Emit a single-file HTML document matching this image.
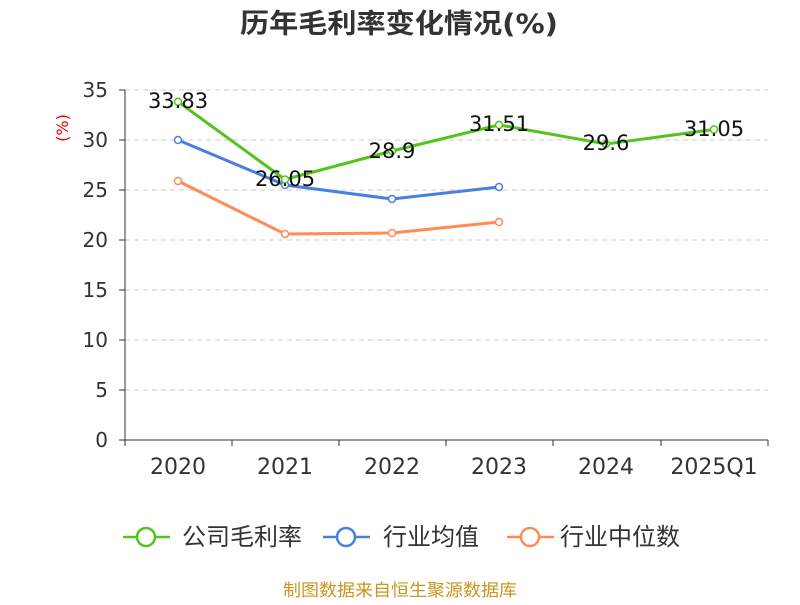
<!DOCTYPE html>
<html><head><meta charset="utf-8"><style>
body{margin:0;background:#fff;}
svg text{font-family:"DejaVu Sans","Noto Sans CJK SC",sans-serif;}
</style></head><body>
<svg width="800" height="600" xmlns="http://www.w3.org/2000/svg">
<text x="240" y="33" font-size="27" font-weight="bold" fill="#333" textLength="318" lengthAdjust="spacingAndGlyphs">历年毛利率变化情况(%)</text>
<text x="68" y="128" font-size="16" fill="#e00" transform="rotate(-90 68 128)" text-anchor="middle">(%)</text>
<g stroke="#ccc" stroke-dasharray="5,4" stroke-width="1">
<line x1="125" x2="768" y1="90" y2="90"/><line x1="125" x2="768" y1="140" y2="140"/>
<line x1="125" x2="768" y1="190" y2="190"/><line x1="125" x2="768" y1="240" y2="240"/>
<line x1="125" x2="768" y1="290" y2="290"/><line x1="125" x2="768" y1="340" y2="340"/>
<line x1="125" x2="768" y1="390" y2="390"/>
</g>
<g stroke="#333" stroke-width="1">
<line x1="125" x2="125" y1="90" y2="440"/>
<line x1="125" x2="768" y1="440" y2="440"/>
<line x1="119" x2="125" y1="90" y2="90"/><line x1="119" x2="125" y1="140" y2="140"/>
<line x1="119" x2="125" y1="190" y2="190"/><line x1="119" x2="125" y1="240" y2="240"/>
<line x1="119" x2="125" y1="290" y2="290"/><line x1="119" x2="125" y1="340" y2="340"/>
<line x1="119" x2="125" y1="390" y2="390"/><line x1="119" x2="125" y1="440" y2="440"/>
<line x1="125" x2="125" y1="440" y2="446"/><line x1="232" x2="232" y1="440" y2="446"/>
<line x1="339" x2="339" y1="440" y2="446"/><line x1="446" x2="446" y1="440" y2="446"/>
<line x1="553" x2="553" y1="440" y2="446"/><line x1="661" x2="661" y1="440" y2="446"/>
<line x1="768" x2="768" y1="440" y2="446"/>
</g>
<g font-size="20" fill="#333" text-anchor="end">
<text x="108" y="97">35</text><text x="108" y="147">30</text><text x="108" y="197">25</text>
<text x="108" y="247">20</text><text x="108" y="297">15</text><text x="108" y="347">10</text>
<text x="108" y="397">5</text><text x="108" y="447">0</text>
</g>
<g font-size="22" fill="#333" text-anchor="middle">
<text x="178" y="474">2020</text><text x="285" y="474">2021</text><text x="392" y="474">2022</text>
<text x="499" y="474">2023</text><text x="606" y="474">2024</text><text x="714" y="474">2025Q1</text>
</g>
<g fill="none" stroke-width="3">
<polyline stroke="#ff8c55" points="178,181 285,234 392,233 499,222"/>
<polyline stroke="#4a7fe0" points="178,140 285,185 392,199 499,187"/>
<polyline stroke="#52c41a" points="178,101.7 285,179.5 392,151 499,124.9 606,144 714,129.5"/>
</g>
<g fill="#fff" stroke-width="1.5">
<g stroke="#ff8c55"><circle cx="178" cy="181" r="3.5"/><circle cx="285" cy="234" r="3.5"/><circle cx="392" cy="233" r="3.5"/><circle cx="499" cy="222" r="3.5"/></g>
<g stroke="#4a7fe0"><circle cx="178" cy="140" r="3.5"/><circle cx="285" cy="185" r="3.5"/><circle cx="392" cy="199" r="3.5"/><circle cx="499" cy="187" r="3.5"/></g>
<g stroke="#52c41a"><circle cx="178" cy="101.7" r="3.5"/><circle cx="285" cy="179.5" r="3.5"/><circle cx="392" cy="151" r="3.5"/><circle cx="499" cy="124.9" r="3.5"/><circle cx="606" cy="144" r="3.5"/><circle cx="714" cy="129.5" r="3.5"/></g>
</g>
<g font-size="21" fill="#111" text-anchor="middle">
<text x="178" y="108">33.83</text><text x="285" y="186">26.05</text><text x="392" y="158">28.9</text>
<text x="499" y="131">31.51</text><text x="606" y="150">29.6</text><text x="714" y="136">31.05</text>
</g>
<g stroke-width="2.5" fill="#fff">
<line x1="123" x2="170" y1="537" y2="537" stroke="#52c41a"/><circle cx="146" cy="537" r="9" stroke="#52c41a"/>
<line x1="323" x2="370" y1="537" y2="537" stroke="#4a7fe0"/><circle cx="346" cy="537" r="9" stroke="#4a7fe0"/>
<line x1="507" x2="554" y1="537" y2="537" stroke="#ff8c55"/><circle cx="530" cy="537" r="9" stroke="#ff8c55"/>
</g>
<g font-size="24" fill="#333">
<text x="182" y="545" textLength="120" lengthAdjust="spacingAndGlyphs">公司毛利率</text>
<text x="383" y="545" textLength="96" lengthAdjust="spacingAndGlyphs">行业均值</text>
<text x="560" y="545" textLength="120" lengthAdjust="spacingAndGlyphs">行业中位数</text>
</g>
<text x="283" y="596" font-size="17" fill="#c8961e" textLength="234" lengthAdjust="spacingAndGlyphs">制图数据来自恒生聚源数据库</text>
</svg>
</body></html>
